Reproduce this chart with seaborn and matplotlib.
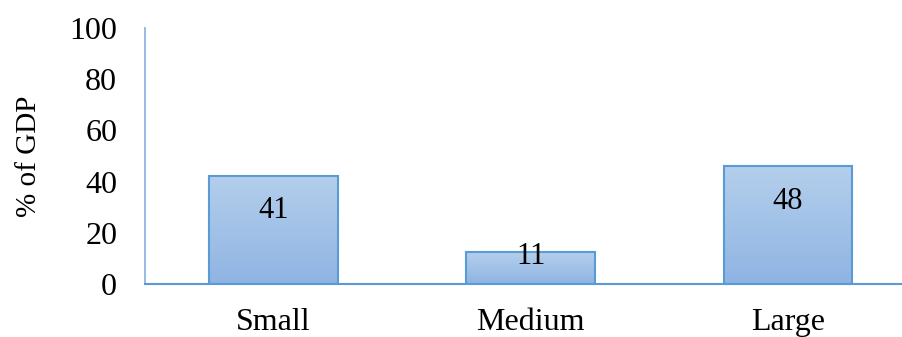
import numpy as np
import pandas as pd
import matplotlib
matplotlib.use("Agg")
import matplotlib.pyplot as plt
import seaborn as sns
from matplotlib.colors import LinearSegmentedColormap

categories = ["Small", "Medium", "Large"]
values = [42.2, 12.5, 46.0]
value_labels = ["41", "11", "48"]
y_ticks = [0, 20, 40, 60, 80, 100]
y_label = "% of GDP"

sns.set_theme(style="white")
plt.rcParams['font.family'] = ['Liberation Serif', 'DejaVu Serif']

W, H = 902, 337
fig = plt.figure(figsize=(W / 100, H / 100), dpi=100)
ax = fig.add_axes([145 / W, (H - 284) / H, (916.5 - 145) / W, (284 - 28) / H])

df = pd.DataFrame({"size": categories, "gdp": values})
sns.barplot(data=df, x="size", y="gdp", ax=ax, width=0.5, color="#a4c2e8",
            edgecolor="#5b9bd5", linewidth=1.5, saturation=1, errorbar=None)
ax.set_ylim(0, 100)
ax.set_xlim(-0.5, 2.5)

cmap = LinearSegmentedColormap.from_list("g", ["#8fb4e3", "#b4cfec"])
grad = np.linspace(0, 1, 256).reshape(-1, 1)
for p in ax.patches:
    x0, y0, w, h = p.get_x(), p.get_y(), p.get_width(), p.get_height()
    p.set_facecolor("none")
    p.set_zorder(3)
    ax.imshow(grad, cmap=cmap, origin="lower", extent=[x0, x0 + w, y0, y0 + h],
              aspect="auto", zorder=2, interpolation="bilinear")
ax.set_ylim(0, 100)
ax.set_xlim(-0.5, 2.5)

for p, lab in zip(ax.patches, value_labels):
    cx = p.get_x() + p.get_width() / 2
    top = p.get_height()
    hpx = ax.transData.transform((0, top))[1] - ax.transData.transform((0, 0))[1]
    off_px = 35 if hpx > 64 else 5
    ax.annotate(lab, (cx, top), xytext=(0, -off_px * 0.72), textcoords="offset points",
                ha="center", va="center", fontsize=22, color="black", zorder=5)

ax.set_yticks(y_ticks)
ax.set_xlabel("")
ax.set_ylabel(y_label, fontsize=21, color="black")
ax.yaxis.set_label_coords(-0.133, 0.5)
ax.tick_params(axis="both", length=0, labelsize=23, colors="black")
ax.tick_params(axis="y", pad=20)
ax.tick_params(axis="x", pad=17)

for s in ["top", "right"]:
    ax.spines[s].set_visible(False)
ax.spines["left"].set_color("#8eb4e3")
ax.spines["left"].set_linewidth(1.3)
ax.spines["bottom"].set_color("#5b9bd5")
ax.spines["bottom"].set_linewidth(1.5)
ax.grid(False)

fig.savefig("out.png", dpi=100)
